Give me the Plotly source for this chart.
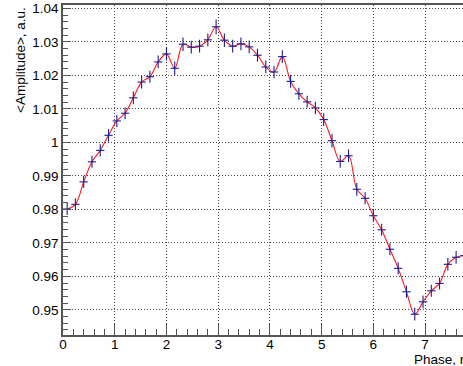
import plotly.graph_objects as go

# Bin centres (rad) and mean amplitude per phase bin
phase = [0.08, 0.24, 0.40, 0.56, 0.72, 0.88, 1.04, 1.20, 1.36, 1.52,
         1.68, 1.84, 2.00, 2.16, 2.32, 2.48, 2.64, 2.80, 2.96, 3.12,
         3.28, 3.44, 3.60, 3.76, 3.92, 4.08, 4.24, 4.40, 4.56, 4.72,
         4.88, 5.04, 5.20, 5.36, 5.52, 5.68, 5.84, 6.00, 6.16, 6.32,
         6.48, 6.64, 6.80, 6.96, 7.12, 7.28, 7.44, 7.60, 7.76]

amplitude = [0.9801, 0.9815, 0.9882, 0.9942, 0.9976, 1.0021, 1.0064, 1.0087, 1.0133, 1.0180,
             1.0196, 1.0240, 1.0264, 1.0221, 1.0293, 1.0284, 1.0287, 1.0306, 1.0345, 1.0305,
             1.0287, 1.0294, 1.0285, 1.0260, 1.0225, 1.0210, 1.0256, 1.0182, 1.0145, 1.0121,
             1.0103, 1.0068, 1.0005, 0.9943, 0.9960, 0.9860, 0.9833, 0.9781, 0.9739, 0.9681,
             0.9624, 0.9554, 0.9487, 0.9524, 0.9557, 0.9579, 0.9636, 0.9657, 0.9662]

amplitude_err = [0.0018, 0.0018, 0.0018, 0.0018, 0.0018, 0.0019, 0.0018, 0.0018, 0.0019, 0.0019,
                 0.0018, 0.0019, 0.0020, 0.0020, 0.0020, 0.0019, 0.0019, 0.0019, 0.0022, 0.0020,
                 0.0019, 0.0019, 0.0019, 0.0019, 0.0019, 0.0019, 0.0019, 0.0019, 0.0018, 0.0018,
                 0.0018, 0.0019, 0.0020, 0.0019, 0.0019, 0.0019, 0.0018, 0.0018, 0.0018, 0.0018,
                 0.0018, 0.0018, 0.0019, 0.0019, 0.0018, 0.0018, 0.0019, 0.0019, 0.0019]

bin_half_width = 0.08

x_tickvals = [0, 1, 2, 3, 4, 5, 6, 7]
x_ticktext = ["0", "1", "2", "3", "4", "5", "6", "7"]
y_tickvals = [0.95, 0.96, 0.97, 0.98, 0.99, 1.00, 1.01, 1.02, 1.03, 1.04]
y_ticktext = ["0.95", "0.96", "0.97", "0.98", "0.99", "1", "1.01", "1.02", "1.03", "1.04"]

FONT = "Liberation Sans, Arial, Helvetica, sans-serif"
AXIS_GREY = "#555555"
GRID = "#444444"
NAVY = "#1c1c96"

fig = go.Figure()

# smooth red curve through the bin contents
fig.add_trace(go.Scatter(
    x=phase, y=amplitude, mode="lines",
    line=dict(color="#ff1a1a", width=1.1, shape="spline", smoothing=1.0),
    hoverinfo="skip", showlegend=False,
))

# bin contents drawn as error crosses
fig.add_trace(go.Scatter(
    x=phase, y=amplitude, mode="markers",
    marker=dict(size=1, color=NAVY, opacity=0),
    error_y=dict(type="data", array=amplitude_err, color=NAVY, thickness=1.1, width=0),
    error_x=dict(type="constant", value=bin_half_width, color=NAVY, thickness=1.1, width=0),
    showlegend=False,
))

fig.update_layout(
    width=463, height=366,
    margin=dict(l=63, r=0, t=5, b=31),
    paper_bgcolor="white", plot_bgcolor="white",
    font=dict(family=FONT, size=13.5, color="black"),
    showlegend=False,
)

fig.update_xaxes(
    range=[0, 7.733],
    tickmode="array", tickvals=x_tickvals, ticktext=x_ticktext,
    ticks="inside", ticklen=11, tickwidth=1.2, tickcolor=AXIS_GREY,
    ticklabelstandoff=-4,
    showline=True, linecolor=AXIS_GREY, linewidth=1.6, mirror=True,
    showgrid=True, gridcolor=GRID, gridwidth=1, griddash="1px,2px",
    zeroline=False,
    minor=dict(ticks="inside", ticklen=6, tickwidth=1.2, tickcolor=AXIS_GREY,
               tick0=0, dtick=0.2, showgrid=False),
    tickfont=dict(family=FONT, size=13.5, color="black"),
)

fig.update_yaxes(
    range=[0.9425, 1.041],
    tickmode="array", tickvals=y_tickvals, ticktext=y_ticktext,
    ticks="inside", ticklen=8, tickwidth=1.2, tickcolor=AXIS_GREY,
    showline=True, linecolor=AXIS_GREY, linewidth=1.6, mirror=False,
    showgrid=True, gridcolor=GRID, gridwidth=1, griddash="1px,2px",
    zeroline=False,
    minor=dict(ticks="inside", ticklen=5, tickwidth=1.2, tickcolor=AXIS_GREY,
               tick0=0.94, dtick=0.002, showgrid=False),
    tickfont=dict(family=FONT, size=13.5, color="black"),
)

# axis titles, placed at the far ends of the axes
fig.add_annotation(
    text="&lt;Amplitude&gt;, a.u.", textangle=-90,
    xref="paper", yref="paper", x=-0.1075, y=1.0,
    xanchor="center", yanchor="top", showarrow=False,
    font=dict(family=FONT, size=13.5, color="black"),
)
fig.add_annotation(
    text="Phase, rad",
    xref="paper", yref="paper", x=0.873, y=-0.045,
    xanchor="left", yanchor="top", showarrow=False,
    font=dict(family=FONT, size=13.5, color="black"),
)

fig.write_html("out.html")
